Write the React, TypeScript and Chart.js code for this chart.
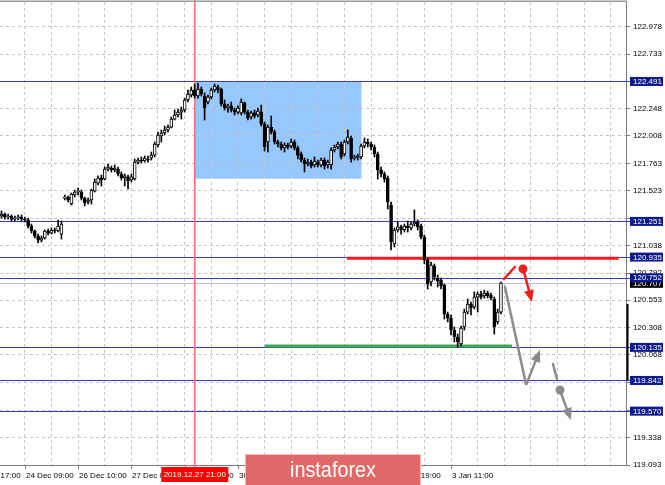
import { useEffect, useRef } from 'react';
import { Chart, registerables } from 'chart.js';

Chart.register(...registerables);

// ---- H1 candles (prices) ----
const OPEN = [
  121.299, 121.317, 121.290, 121.299, 121.272, 121.281, 121.290, 121.272, 121.264, 121.210,
  121.166, 121.122, 121.086, 121.104, 121.166, 121.148, 121.175, 121.166, 121.139, 121.458,
  121.467, 121.405, 121.485, 121.512, 121.512, 121.458, 121.423, 121.441, 121.520, 121.591,
  121.636, 121.627, 121.715, 121.724, 121.707, 121.715, 121.671, 121.636, 121.645, 121.618,
  121.627, 121.777, 121.795, 121.786, 121.804, 121.813, 121.839, 121.928, 122.008, 122.034,
  122.061, 122.087, 122.158, 122.194, 122.220, 122.238, 122.327, 122.371, 122.415, 122.362,
  122.424, 122.362, 122.309, 122.353, 122.415, 122.442, 122.424, 122.291, 122.256, 122.274,
  122.238, 122.220, 122.212, 122.300, 122.220, 122.176, 122.212, 122.194, 122.220, 122.114,
  121.955, 122.087, 122.043, 121.955, 121.937, 121.902, 121.928, 121.919, 121.955, 121.902,
  121.848, 121.795, 121.760, 121.777, 121.751, 121.777, 121.751, 121.795, 121.751, 121.751,
  121.884, 121.910, 121.937, 121.848, 121.955, 121.990, 121.813, 121.813, 121.822, 121.919,
  121.955, 121.937, 121.910, 121.848, 121.707, 121.671, 121.636, 121.396, 121.051, 121.175,
  121.202, 121.175, 121.210, 121.193, 121.228, 121.246, 121.210, 121.113, 120.909, 120.714,
  120.856, 120.750, 120.732, 120.687, 120.431, 120.395, 120.289, 120.227, 120.165, 120.316,
  120.448, 120.519, 120.493, 120.581, 120.608, 120.590, 120.617, 120.599, 120.564, 120.360,
  120.448,
];
const HIGH = [
  121.343, 121.326, 121.317, 121.308, 121.299, 121.308, 121.308, 121.290, 121.281, 121.228,
  121.175, 121.139, 121.122, 121.175, 121.184, 121.193, 121.193, 121.264, 121.255, 121.485,
  121.476, 121.503, 121.529, 121.547, 121.529, 121.467, 121.458, 121.538, 121.627, 121.654,
  121.662, 121.733, 121.760, 121.742, 121.751, 121.733, 121.689, 121.671, 121.662, 121.671,
  121.804, 121.813, 121.822, 121.831, 121.831, 121.866, 121.955, 122.043, 122.061, 122.096,
  122.105, 122.176, 122.238, 122.247, 122.265, 122.344, 122.415, 122.442, 122.468, 122.477,
  122.442, 122.389, 122.371, 122.433, 122.468, 122.460, 122.433, 122.327, 122.291, 122.309,
  122.256, 122.274, 122.336, 122.309, 122.238, 122.229, 122.238, 122.256, 122.282, 122.132,
  122.105, 122.185, 122.061, 121.972, 121.955, 121.946, 121.946, 121.981, 121.972, 121.919,
  121.866, 121.813, 121.804, 121.795, 121.822, 121.795, 121.813, 121.813, 121.795, 121.902,
  121.928, 121.955, 121.955, 121.972, 122.061, 122.008, 121.839, 121.848, 121.937, 121.990,
  121.981, 121.955, 121.928, 121.866, 121.733, 121.689, 121.654, 121.423, 121.193, 121.246,
  121.219, 121.228, 121.255, 121.246, 121.352, 121.264, 121.228, 121.131, 120.927, 120.891,
  120.874, 120.776, 120.750, 120.696, 120.448, 120.422, 120.316, 120.254, 120.324, 120.475,
  120.564, 120.537, 120.626, 120.626, 120.634, 120.643, 120.634, 120.617, 120.581, 120.475,
  120.714,
];
const LOW = [
  121.281, 121.272, 121.272, 121.255, 121.255, 121.264, 121.255, 121.246, 121.193, 121.148,
  121.104, 121.060, 121.069, 121.095, 121.131, 121.139, 121.148, 121.157, 121.095, 121.441,
  121.423, 121.396, 121.467, 121.485, 121.441, 121.388, 121.405, 121.405, 121.512, 121.574,
  121.565, 121.618, 121.698, 121.689, 121.689, 121.654, 121.618, 121.565, 121.538, 121.600,
  121.618, 121.760, 121.768, 121.777, 121.777, 121.795, 121.822, 121.910, 121.955, 122.017,
  122.043, 122.079, 122.150, 122.176, 122.158, 122.220, 122.309, 122.353, 122.344, 122.344,
  122.362, 122.150, 122.291, 122.336, 122.398, 122.389, 122.274, 122.238, 122.220, 122.220,
  122.194, 122.203, 122.194, 122.203, 122.150, 122.158, 122.167, 122.176, 122.096, 121.875,
  121.866, 122.025, 121.937, 121.910, 121.884, 121.866, 121.893, 121.902, 121.884, 121.804,
  121.777, 121.689, 121.742, 121.724, 121.733, 121.733, 121.733, 121.715, 121.724, 121.715,
  121.866, 121.893, 121.804, 121.831, 121.937, 121.777, 121.795, 121.795, 121.804, 121.902,
  121.910, 121.884, 121.822, 121.627, 121.645, 121.600, 121.361, 120.998, 121.024, 121.157,
  121.139, 121.157, 121.157, 121.175, 121.210, 121.175, 121.095, 120.874, 120.652, 120.679,
  120.732, 120.670, 120.652, 120.386, 120.360, 120.245, 120.183, 120.138, 120.147, 120.289,
  120.431, 120.422, 120.475, 120.448, 120.564, 120.572, 120.572, 120.555, 120.254, 120.342,
  120.431,
];
const CLOSE = [
  121.317, 121.290, 121.299, 121.272, 121.281, 121.290, 121.272, 121.264, 121.210, 121.166,
  121.122, 121.086, 121.104, 121.166, 121.148, 121.175, 121.166, 121.210, 121.228, 121.467,
  121.441, 121.494, 121.512, 121.520, 121.458, 121.414, 121.441, 121.529, 121.600, 121.636,
  121.618, 121.715, 121.733, 121.707, 121.724, 121.671, 121.636, 121.654, 121.609, 121.645,
  121.777, 121.795, 121.786, 121.813, 121.795, 121.839, 121.937, 122.017, 122.034, 122.061,
  122.087, 122.158, 122.194, 122.220, 122.238, 122.327, 122.380, 122.415, 122.362, 122.424,
  122.380, 122.256, 122.353, 122.415, 122.451, 122.415, 122.291, 122.256, 122.274, 122.238,
  122.220, 122.256, 122.309, 122.220, 122.167, 122.212, 122.185, 122.229, 122.114, 121.910,
  122.087, 122.043, 121.955, 121.937, 121.902, 121.928, 121.910, 121.955, 121.902, 121.839,
  121.795, 121.760, 121.777, 121.742, 121.786, 121.751, 121.795, 121.742, 121.777, 121.884,
  121.910, 121.937, 121.822, 121.955, 121.999, 121.804, 121.822, 121.831, 121.919, 121.955,
  121.937, 121.910, 121.848, 121.707, 121.671, 121.627, 121.423, 121.069, 121.175, 121.202,
  121.175, 121.210, 121.193, 121.228, 121.246, 121.202, 121.113, 120.909, 120.696, 120.865,
  120.759, 120.723, 120.679, 120.431, 120.395, 120.289, 120.227, 120.183, 120.307, 120.448,
  120.519, 120.484, 120.581, 120.608, 120.581, 120.617, 120.590, 120.572, 120.316, 120.448,
  120.707,
];

// ---- scales ----
const BAR_SHIFT = 0.45;
const X_MAX_BARS = 188;
const GRID_BARS = [7, 15, 23, 31, 39, 47, 55, 63, 71, 79, 87, 95, 103, 111, 119, 127, 135, 143, 151, 159, 167, 175, 183];
const Y_MIN = 119.093;
const Y_MAX = 123.195;
const Y_TICK_VALUES = [122.978, 122.733, 122.491, 122.248, 122.008, 121.763, 121.523, 121.278, 121.038, 120.792, 120.553, 120.308, 120.068, 119.823, 119.578, 119.338, 119.093];
const Y_TICK_TEXT = ['122.978', '122.733', '122.491', '122.248', '122.008', '121.763', '121.523', '', '121.038', '120.792', '120.553', '120.308', '120.068', '119.823', '119.578', '119.338', '119.093'];

// ---- time labels ----
const TIME_LABEL_BARS = [-9, 7, 23, 39, 55, 71, 87, 103, 119, 135];
const TIME_LABELS = ['23 Dec 17:00', '24 Dec 09:00', '26 Dec 10:00', '27 Dec 02:00', '27 Dec 18:00', '30 Dec 10:00', '31 Dec 02:00', '31 Dec 18:00', '2 Jan 19:00', '3 Jan 11:00'];
const MARKED_BAR = 58.5;
const MARKED_TIME = '2019.12.27 21:00';

// ---- drawn objects ----
const LEVEL_PRICES = [122.491, 121.251, 120.935, 120.752, 120.135, 119.842, 119.570];
const CURRENT_PRICE = 120.707;
const ZONE_BARS = [58.5, 108.55];
const ZONE_PRICES = [121.629, 122.491];
const RESISTANCE_BARS = [104.2, 185.8];
const RESISTANCE_PRICE = 120.924;
const SUPPORT_BARS = [79.6, 153.8];
const SUPPORT_PRICE = 120.147;
const RANGE_BAR_PRICES = [119.842, 120.52];

const BEAR_TICK_BARS = [151.35, 154.65];
const BEAR_TICK_PRICES = [120.741, 120.847];
const BEAR_DOT = [157.06, 120.83];
const BEAR_ARROW_BARS = [157.4, 159.76];
const BEAR_ARROW_PRICES = [120.8, 120.537];
const ALT_PATH_BARS = [151.65, 157.96];
const ALT_PATH_PRICES = [120.67, 119.81];
const ALT_UP_BARS = [158.1, 162.16];
const ALT_UP_PRICES = [119.81, 120.112];
const ALT_DASH_BARS = [166.07, 167.27];
const ALT_DASH_PRICES = [119.988, 119.855];
const ALT_DOT = [168.17, 119.757];
const ALT_DOWN_BARS = [168.5, 171.47];
const ALT_DOWN_PRICES = [119.73, 119.491];

const FONT = '"Liberation Sans", Arial, sans-serif';

function arrow(ctx: CanvasRenderingContext2D, x1: number, y1: number, x2: number, y2: number, color: string, w: number) {
  const ang = Math.atan2(y2 - y1, x2 - x1);
  const hl = 12, hw = 5;
  const bx = x2 - hl * Math.cos(ang), by = y2 - hl * Math.sin(ang);
  ctx.strokeStyle = color;
  ctx.fillStyle = color;
  ctx.lineWidth = w;
  ctx.beginPath();
  ctx.moveTo(x1, y1);
  ctx.lineTo(bx, by);
  ctx.stroke();
  ctx.beginPath();
  ctx.moveTo(x2, y2);
  ctx.lineTo(bx + hw * Math.sin(ang), by - hw * Math.cos(ang));
  ctx.lineTo(bx - hw * Math.sin(ang), by + hw * Math.cos(ang));
  ctx.closePath();
  ctx.fill();
}

const overlayPlugin = {
  id: 'overlay',
  beforeDraw(chart: any) {
    const { ctx, scales } = chart;
    const x = scales.x, y = scales.y;
    ctx.save();
    ctx.fillStyle = 'rgb(150,200,255)';
    const x1 = x.getPixelForValue(ZONE_BARS[0]);
    const x2 = x.getPixelForValue(ZONE_BARS[1]);
    const y1 = y.getPixelForValue(ZONE_PRICES[1]);
    const y2 = y.getPixelForValue(ZONE_PRICES[0]);
    ctx.fillRect(x1, y1, x2 - x1, y2 - y1);
    ctx.restore();
  },
  beforeDatasetsDraw(chart: any) {
    const { ctx, scales, chartArea } = chart;
    const x = scales.x, y = scales.y;
    ctx.save();
    // current price line
    const cy = Math.round(y.getPixelForValue(CURRENT_PRICE)) + 0.5;
    ctx.strokeStyle = '#c0c0c0';
    ctx.lineWidth = 1;
    ctx.beginPath();
    ctx.moveTo(chartArea.left, cy);
    ctx.lineTo(chartArea.right, cy);
    ctx.stroke();
    // horizontal levels
    ctx.strokeStyle = '#3a3ac4';
    LEVEL_PRICES.forEach((p) => {
      const ly = Math.round(y.getPixelForValue(p)) + 0.5;
      ctx.beginPath();
      ctx.moveTo(chartArea.left, ly);
      ctx.lineTo(chartArea.right + 4, ly);
      ctx.stroke();
    });
    // red vertical marker
    const mx = x.getPixelForValue(MARKED_BAR);
    ctx.strokeStyle = '#ff6f6f';
    ctx.lineWidth = 1.6;
    ctx.beginPath();
    ctx.moveTo(mx, 0);
    ctx.lineTo(mx, chartArea.bottom + 2);
    ctx.stroke();
    // resistance (red) and support (green)
    ctx.lineWidth = 3;
    ctx.strokeStyle = '#f01e1e';
    let ry = y.getPixelForValue(RESISTANCE_PRICE);
    ctx.beginPath();
    ctx.moveTo(x.getPixelForValue(RESISTANCE_BARS[0]), ry);
    ctx.lineTo(x.getPixelForValue(RESISTANCE_BARS[1]), ry);
    ctx.stroke();
    ctx.strokeStyle = '#3caa55';
    ry = y.getPixelForValue(SUPPORT_PRICE);
    ctx.beginPath();
    ctx.moveTo(x.getPixelForValue(SUPPORT_BARS[0]), ry);
    ctx.lineTo(x.getPixelForValue(SUPPORT_BARS[1]), ry);
    ctx.stroke();
    ctx.restore();
  },
  afterDatasetsDraw(chart: any) {
    const { ctx, scales } = chart;
    const x = scales.x, y = scales.y;
    const X = (v: number) => x.getPixelForValue(v);
    const Y = (v: number) => y.getPixelForValue(v);
    ctx.save();
    ctx.lineCap = 'round';
    // bearish scenario (red)
    ctx.strokeStyle = '#f01e1e';
    ctx.lineWidth = 2.5;
    ctx.beginPath();
    ctx.moveTo(X(BEAR_TICK_BARS[0]), Y(BEAR_TICK_PRICES[0]));
    ctx.lineTo(X(BEAR_TICK_BARS[1]), Y(BEAR_TICK_PRICES[1]));
    ctx.stroke();
    ctx.fillStyle = '#f01e1e';
    ctx.beginPath();
    ctx.arc(X(BEAR_DOT[0]), Y(BEAR_DOT[1]), 4.5, 0, Math.PI * 2);
    ctx.fill();
    arrow(ctx, X(BEAR_ARROW_BARS[0]), Y(BEAR_ARROW_PRICES[0]), X(BEAR_ARROW_BARS[1]), Y(BEAR_ARROW_PRICES[1]), '#f01e1e', 2.5);
    // alternative scenario (gray)
    const g = '#8c8c8c';
    ctx.strokeStyle = g;
    ctx.lineWidth = 2.5;
    ctx.beginPath();
    ctx.moveTo(X(ALT_PATH_BARS[0]), Y(ALT_PATH_PRICES[0]));
    ctx.lineTo(X(ALT_PATH_BARS[1]), Y(ALT_PATH_PRICES[1]));
    ctx.stroke();
    arrow(ctx, X(ALT_UP_BARS[0]), Y(ALT_UP_PRICES[0]), X(ALT_UP_BARS[1]), Y(ALT_UP_PRICES[1]), g, 2.5);
    ctx.strokeStyle = g;
    ctx.lineWidth = 2.5;
    ctx.beginPath();
    ctx.moveTo(X(ALT_DASH_BARS[0]), Y(ALT_DASH_PRICES[0]));
    ctx.lineTo(X(ALT_DASH_BARS[1]), Y(ALT_DASH_PRICES[1]));
    ctx.stroke();
    ctx.fillStyle = g;
    ctx.beginPath();
    ctx.arc(X(ALT_DOT[0]), Y(ALT_DOT[1]), 4.5, 0, Math.PI * 2);
    ctx.fill();
    arrow(ctx, X(ALT_DOWN_BARS[0]), Y(ALT_DOWN_PRICES[0]), X(ALT_DOWN_BARS[1]), Y(ALT_DOWN_PRICES[1]), g, 2.5);
    ctx.restore();
  },
  afterDraw(chart: any) {
    const { ctx, scales, chartArea } = chart;
    const x = scales.x, y = scales.y;
    ctx.save();
    // top frame line
    ctx.fillStyle = '#9a9a9a';
    ctx.fillRect(0, chartArea.top - 1.5, chartArea.right + 1, 1.5);
    // range bar on the price axis
    ctx.strokeStyle = '#000';
    ctx.lineWidth = 2;
    const rx = chartArea.right + 1.5;
    ctx.beginPath();
    ctx.moveTo(rx, y.getPixelForValue(RANGE_BAR_PRICES[1]));
    ctx.lineTo(rx, y.getPixelForValue(RANGE_BAR_PRICES[0]));
    ctx.stroke();
    // time labels
    ctx.font = '8px ' + FONT;
    ctx.textBaseline = 'middle';
    ctx.textAlign = 'left';
    ctx.fillStyle = '#000';
    ctx.strokeStyle = '#7a7a7a';
    ctx.lineWidth = 1;
    TIME_LABEL_BARS.forEach((b, i) => {
      const tx = Math.round(x.getPixelForValue(b + BAR_SHIFT)) + 0.5;
      ctx.beginPath();
      ctx.moveTo(tx, chartArea.bottom);
      ctx.lineTo(tx, chartArea.bottom + 4);
      ctx.stroke();
      ctx.fillText(TIME_LABELS[i], tx + 0.5, chartArea.bottom + 10.5);
    });
    // marked time box
    const mx = x.getPixelForValue(MARKED_BAR);
    ctx.fillStyle = '#ff0000';
    ctx.fillRect(mx - 33.5, chartArea.bottom + 2, 67, 15);
    ctx.fillStyle = '#fff';
    ctx.textAlign = 'center';
    ctx.fillText(MARKED_TIME, mx, chartArea.bottom + 10);
    // price boxes
    ctx.textAlign = 'left';
    const bx = chartArea.right + 4;
    const boxW = 33;
    const cy = y.getPixelForValue(CURRENT_PRICE);
    ctx.fillStyle = '#000';
    ctx.fillRect(bx, cy - 4, boxW, 9);
    ctx.fillStyle = '#fff';
    ctx.fillText(CURRENT_PRICE.toFixed(3), bx + 3, cy + 0.5);
    LEVEL_PRICES.forEach((p) => {
      const ly = y.getPixelForValue(p);
      ctx.fillStyle = '#0d1a8c';
      ctx.fillRect(bx, ly - 4.5, boxW, 9);
      ctx.fillStyle = '#fff';
      ctx.fillText(p.toFixed(3), bx + 3, ly + 0.5);
    });
    // watermark banner
    ctx.fillStyle = 'rgb(226,104,104)';
    ctx.fillRect(245, 454, 176, 31);
    ctx.strokeStyle = 'rgba(255,210,210,0.8)';
    ctx.lineWidth = 1;
    ctx.strokeRect(245.5, 454.5, 175, 31);
    ctx.font = '22px ' + FONT;
    ctx.textAlign = 'center';
    ctx.textBaseline = 'alphabetic';
    const tw = ctx.measureText('instaforex').width;
    ctx.save();
    ctx.translate(333, 477);
    ctx.scale(86 / tw, 1);
    ctx.fillStyle = '#fff';
    ctx.fillText('instaforex', 0, 0);
    ctx.restore();
    ctx.restore();
  },
};

export default function App() {
  const ref = useRef<HTMLCanvasElement>(null);
  useEffect(() => {
    const canvas = ref.current;
    if (!canvas) return;
    const bodies = OPEN.map((o, i) => ({ x: i + BAR_SHIFT, y: [Math.min(o, CLOSE[i]), Math.max(o, CLOSE[i])] }));
    const wicks = OPEN.map((_, i) => ({ x: i + BAR_SHIFT, y: [LOW[i], HIGH[i]] }));
    const fills = OPEN.map((o, i) => (CLOSE[i] > o ? '#ffffff' : '#000000'));
    const chart = new Chart(canvas, {
      type: 'bar',
      data: {
        datasets: [
          {
            label: 'body',
            data: bodies as any,
            backgroundColor: fills,
            borderColor: '#000',
            borderWidth: 1,
            borderSkipped: false,
            barThickness: 3,
            grouped: false,
            order: 0,
          } as any,
          {
            label: 'wick',
            data: wicks as any,
            backgroundColor: '#000',
            borderWidth: 0,
            barThickness: 1,
            grouped: false,
            order: 1,
          } as any,
        ],
      },
      options: {
        animation: false,
        responsive: false,
        maintainAspectRatio: false,
        events: [],
        layout: { padding: { top: 2, left: 0, right: 0, bottom: 0 } },
        plugins: { legend: { display: false }, tooltip: { enabled: false } },
        scales: {
          x: {
            type: 'linear',
            min: 0,
            max: X_MAX_BARS,
            offset: false,
            position: 'bottom',
            afterBuildTicks: (s: any) => {
              s.ticks = GRID_BARS.map((b) => ({ value: b + BAR_SHIFT }));
            },
            afterFit: (s: any) => {
              s.height = 20;
              s.paddingLeft = 0;
              s.paddingRight = 0;
            },
            ticks: { display: false },
            grid: { offset: false, color: '#c6c6c6', drawTicks: false, lineWidth: 1 },
            border: { display: true, color: '#7a7a7a', width: 1, dash: [3, 3] },
          },
          y: {
            type: 'linear',
            position: 'right',
            min: Y_MIN,
            max: Y_MAX,
            afterBuildTicks: (s: any) => {
              s.ticks = Y_TICK_VALUES.map((v) => ({ value: v }));
            },
            afterFit: (s: any) => {
              s.width = 39;
              s.paddingTop = 0;
              s.paddingBottom = 0;
            },
            ticks: {
              autoSkip: false,
              padding: 3,
              color: '#000',
              font: { family: FONT, size: 8 },
              callback: (_v: any, i: number) => Y_TICK_TEXT[i],
            },
            grid: { color: '#c6c6c6', drawTicks: true, tickLength: 4, tickColor: '#7a7a7a' },
            border: { display: true, color: '#7a7a7a', width: 1, dash: [3, 3] },
          },
        },
      } as any,
      plugins: [overlayPlugin],
    });
    return () => chart.destroy();
  }, []);
  return (
    <div style={{ position: 'fixed', left: 0, top: 0, width: 665, height: 485, background: '#fff' }}>
      <canvas ref={ref} width={665} height={485} style={{ display: 'block', width: 665, height: 485 }} />
    </div>
  );
}
